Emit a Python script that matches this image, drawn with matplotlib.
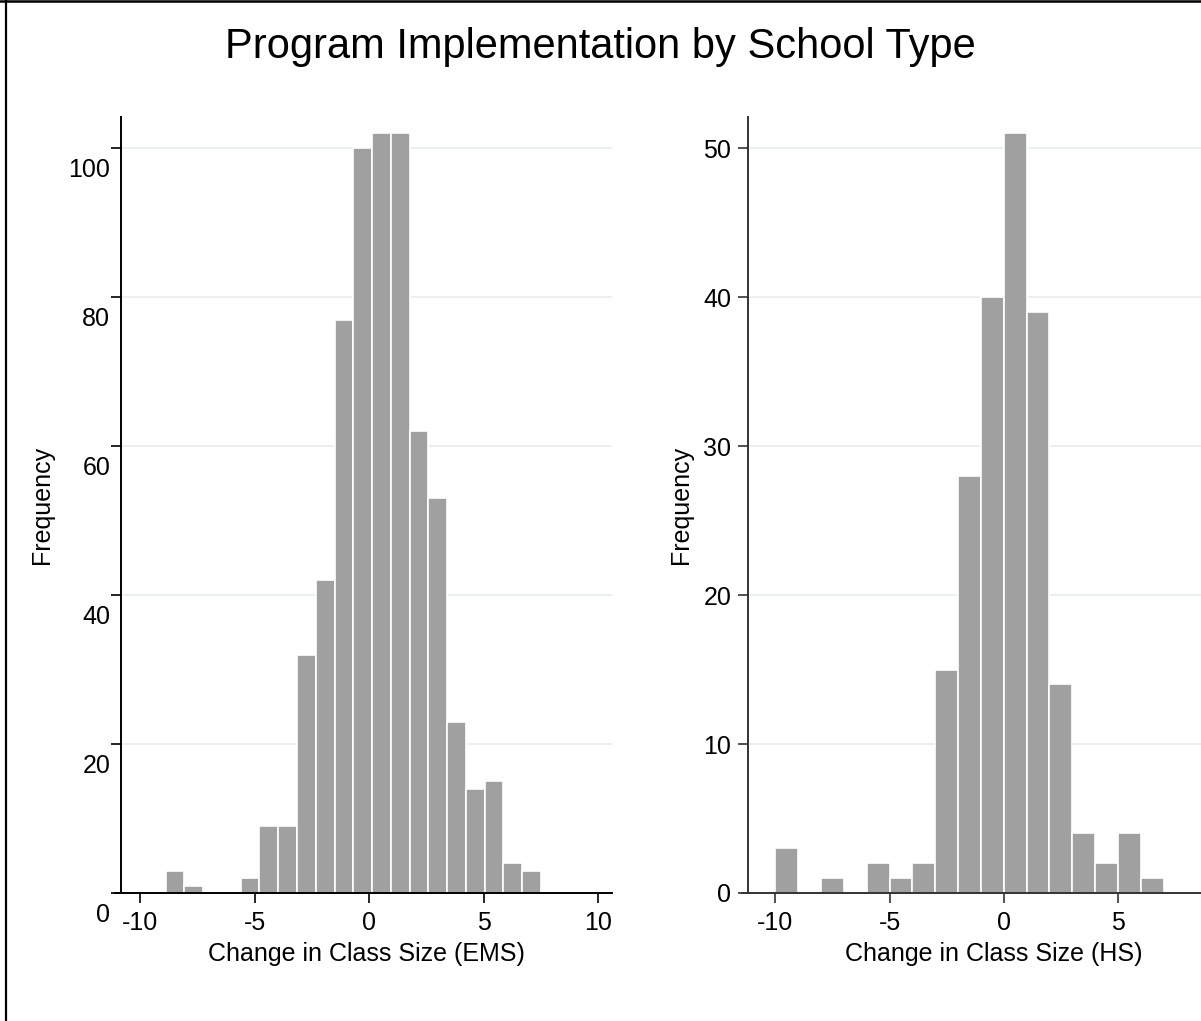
import numpy as np
import matplotlib
matplotlib.use("Agg")
import matplotlib.pyplot as plt
import matplotlib.transforms as mtransforms
from matplotlib.lines import Line2D

plt.rcParams['font.family'] = ['Liberation Sans', 'DejaVu Sans']
plt.rcParams['axes.unicode_minus'] = False

# histogram counts, EMS schools (bins of ~0.82 starting at -8.9)
ems_start = -8.9
ems_width = 0.82
ems_counts = [3, 1, 0, 0, 2, 9, 9, 32, 42, 77, 100, 102, 102, 62, 53, 23, 14, 15, 4, 3]
ems_yticks = [0, 20, 40, 60, 80, 100]
ems_xticks = [-10, -5, 0, 5, 10]

# histogram counts, HS schools (unit bins starting at -10)
hs_start = -10
hs_width = 1.0
hs_counts = [3, 0, 1, 0, 2, 1, 2, 15, 28, 40, 51, 39, 14, 4, 2, 4, 1]
hs_yticks = [0, 10, 20, 30, 40, 50]
hs_xticks = [-10, -5, 0, 5]

W, H = 1201, 1021
fig = plt.figure(figsize=(W / 100, H / 100), dpi=100)
fig.patch.set_facecolor('white')

bar_col = '#a0a0a0'
grid_col = '#e6eff1'
fs = 18


def px_box(x0, y0, x1, y1):
    # pixel box (top-left origin) -> figure fraction
    return [x0 / W, 1 - y1 / H, (x1 - x0) / W, (y1 - y0) / H]


def histo(ax, start, width, counts, xticks, yticks, ylim, xlim, spine_col):
    edges = start + width * np.arange(len(counts))
    ax.bar(edges, counts, width=width, align='edge', color=bar_col,
           edgecolor='white', linewidth=1.2, zorder=2)
    ax.set_xlim(*xlim)
    ax.set_ylim(0, ylim)
    ax.set_xticks(xticks)
    ax.set_yticks(yticks)
    for v in yticks[1:]:
        ax.axhline(v, color=grid_col, lw=1.3, zorder=1)
    for s in ['top', 'right']:
        ax.spines[s].set_visible(False)
    for s in ['left', 'bottom']:
        ax.spines[s].set_color(spine_col)
        ax.spines[s].set_linewidth(1.4)
    # x axis line runs a little past the y axis
    ax.plot([-0.013, 0], [0, 0], color=spine_col, lw=1.4, clip_on=False,
            transform=ax.transAxes)
    ax.tick_params(axis='both', colors=spine_col, labelcolor='black',
                   labelsize=fs, length=7, width=1.2)
    ax.tick_params(axis='x', pad=6)
    ax.tick_params(axis='y', pad=5)


ax1 = fig.add_axes(px_box(121, 117, 612, 893))
histo(ax1, ems_start, ems_width, ems_counts, ems_xticks, ems_yticks, 104.2,
      (-10.85, 10.6), 'black')

# y labels on this panel sit a little below their ticks
ax1.set_yticklabels([])
off = mtransforms.ScaledTranslation(0, -0.22, fig.dpi_scale_trans)
for v in ems_yticks:
    ax1.text(-0.022, v, str(v), transform=ax1.get_yaxis_transform() + off,
             ha='right', va='center', fontsize=fs)

ax1.set_xlabel('Change in Class Size (EMS)', fontsize=fs)
ax1.set_ylabel('Frequency', fontsize=fs)
ax1.xaxis.set_label_coords(0.5, -0.078)
ax1.xaxis.label.set_va('center')
ax1.yaxis.set_label_coords(-0.161, 0.5)
ax1.yaxis.label.set_va('center')

ax2 = fig.add_axes(px_box(748, 117, 1239, 893))
histo(ax2, hs_start, hs_width, hs_counts, hs_xticks, hs_yticks, 52.1,
      (-11.2, 10.3), '#333333')
ax2.set_xlabel('Change in Class Size (HS)', fontsize=fs)
ax2.set_ylabel('Frequency', fontsize=fs)
ax2.xaxis.set_label_coords(0.5, -0.078)
ax2.xaxis.label.set_va('center')
ax2.yaxis.set_label_coords(-0.136, 0.5)
ax2.yaxis.label.set_va('center')

fig.text(0.5, 1 - 47 / H, 'Program Implementation by School Type',
         ha='center', va='center', fontsize=30)

# outer frame (left and top edges)
fig.add_artist(Line2D([5.5 / W, 5.5 / W], [0, 1], color='black', lw=1.6,
                      transform=fig.transFigure))
fig.add_artist(Line2D([0, 1], [1 - 1.2 / H, 1 - 1.2 / H], color='black', lw=1.8,
                      transform=fig.transFigure))

fig.savefig('out.png', dpi=100)
